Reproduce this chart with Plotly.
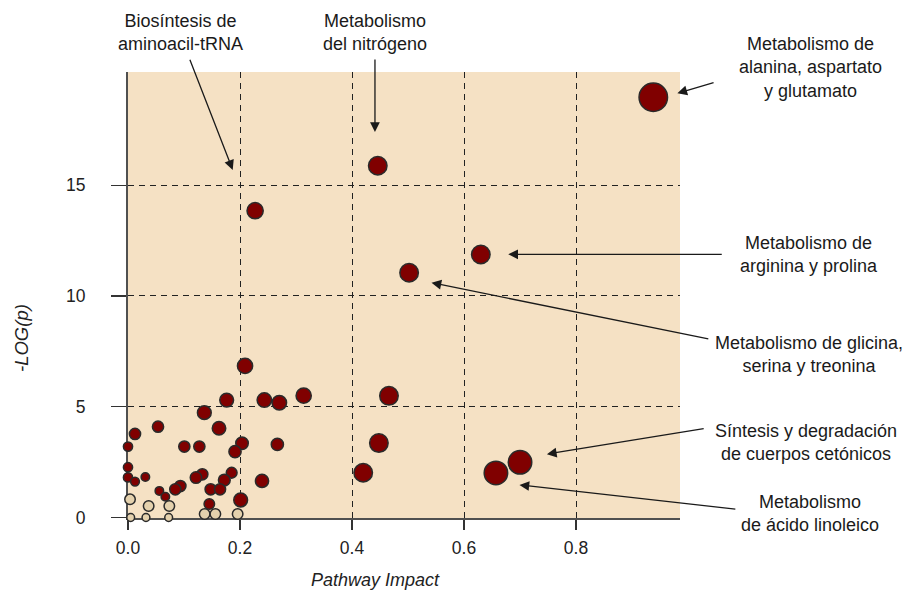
import plotly.graph_objects as go

# ---- data ----
sig_impact = [0.1762, 0.2435, 0.2702, 0.1363, 0.1625, 0.0536, 0.0125, 0.0, 0.1006, 0.1274,
              0.2036, 0.1911, 0.2667, 0.0, 0.0, 0.0125, 0.031, 0.1327, 0.1214, 0.1851,
              0.172, 0.0935, 0.0845, 0.056, 0.0667, 0.1476, 0.1643, 0.2393, 0.1452, 0.2012,
              0.209, 0.3137, 0.466, 0.448, 0.42, 0.227, 0.446, 0.63, 0.502, 0.938, 0.70, 0.657]
sig_logp = [5.30, 5.30, 5.18, 4.73, 4.03, 4.10, 3.77, 3.20, 3.20, 3.20,
            3.35, 2.97, 3.30, 2.27, 1.81, 1.62, 1.83, 1.95, 1.80, 2.02,
            1.69, 1.42, 1.27, 1.20, 0.94, 1.27, 1.27, 1.65, 0.61, 0.79,
            6.84, 5.50, 5.49, 3.36, 2.02, 13.85, 15.88, 11.87, 11.05, 18.97, 2.49, 2.01]
sig_bubble = [15.3, 16, 16, 15.3, 15, 12.7, 12.7, 10.7, 12.7, 12.7,
              14, 13.7, 13.7, 10.7, 10.7, 10.3, 10, 12.7, 13, 12.3,
              13.3, 12.7, 12.7, 10, 10, 12.7, 12.7, 14.7, 12, 15.3,
              16.7, 16.7, 20, 20, 20, 17.7, 20, 20, 20, 30, 25, 25]

ns_impact = [0.0036, 0.0369, 0.0738, 0.0048, 0.0321, 0.0726, 0.1369, 0.156, 0.1958]
ns_logp = [0.82, 0.52, 0.52, 0.0, 0.0, 0.0, 0.16, 0.16, 0.16]
ns_bubble = [12, 12, 12, 9.3, 9.3, 9.3, 12, 12, 12]

x_ticks = [0.0, 0.2, 0.4, 0.6, 0.8]
x_tick_labels = ["0.0", "0.2", "0.4", "0.6", "0.8"]
y_ticks = [0, 5, 10, 15]
y_tick_labels = ["0", "5", "10", "15"]

FONT = "Liberation Sans, Arial, Helvetica, sans-serif"
LW = 1.5

fig = go.Figure()
fig.add_trace(go.Scatter(
    x=ns_impact, y=ns_logp, mode="markers", cliponaxis=False, hoverinfo="skip",
    marker=dict(size=[b - LW for b in ns_bubble], color="#e4d1ad", opacity=1,
                line=dict(color="#2a2a2a", width=LW))))
fig.add_trace(go.Scatter(
    x=sig_impact, y=sig_logp, mode="markers", cliponaxis=False, hoverinfo="skip",
    marker=dict(size=[b - LW for b in sig_bubble], color="#800000", opacity=1,
                line=dict(color="#2a2a2a", width=LW))))

axis_common = dict(
    showgrid=True, gridcolor="#222222", gridwidth=1, griddash="6px,5px",
    showline=True, linecolor="#505050", linewidth=2, zeroline=False,
    ticks="outside", tickcolor="#333333", tickwidth=1.3,
    tickfont=dict(family=FONT, size=17.5, color="#222222"),
    layer="below traces", fixedrange=True,
)

fig.update_xaxes(range=[0, 0.9857], tickvals=x_ticks, ticktext=x_tick_labels,
                 ticklen=10, ticklabelstandoff=3, **axis_common)
fig.update_yaxes(range=[-0.023, 20.11], tickvals=y_ticks, ticktext=y_tick_labels,
                 ticklen=15, ticklabelstandoff=22, **axis_common)

annotations = []
# axis titles
annotations.append(dict(text="<i>Pathway Impact</i>", xref="paper", yref="paper",
                        x=0.4475, y=-0.139, showarrow=False, xanchor="center", yanchor="middle",
                        font=dict(family=FONT, size=18, color="#222222")))
annotations.append(dict(text="<i>-LOG(p)</i>", xref="paper", yref="paper",
                        x=-0.1920, y=0.4036, showarrow=False, textangle=-90,
                        xanchor="center", yanchor="middle",
                        font=dict(family=FONT, size=18.5, color="#222222")))

labels = [
    ("Biosíntesis de<br>aminoacil-tRNA", 0.0960, 1.0886),
    ("Metabolismo<br>del nitrógeno", 0.4469, 1.0886),
    ("Metabolismo de<br>alanina, aspartato<br>y glutamato", 1.2373, 1.0112),
    ("Metabolismo de<br>arginina y prolina", 1.2337, 0.5919),
    ("Metabolismo de glicina,<br>serina y treonina", 1.2337, 0.3655),
    ("Síntesis y degradación<br>de cuerpos cetónicos", 1.2283, 0.1704),
    ("Metabolismo<br>de ácido linoleico", 1.2355, 0.009),
]
for txt, xp, yp in labels:
    annotations.append(dict(text=txt, xref="paper", yref="paper", x=xp, y=yp,
                            showarrow=False, xanchor="center", yanchor="middle",
                            align="center",
                            font=dict(family=FONT, size=18, color="#1a1a1a")))

# arrows: tip in data units, tail offset in pixels
arrows = [
    (0.187, 15.69, -43.4, -111.7),
    (0.441, 17.40, 0, -74),
    (0.981, 19.15, 37.7, -11),
    (0.679, 11.88, 215, 0),
    (0.542, 10.60, 278.3, 56.6),
    (0.748, 2.86, 158.3, -25.7),
    (0.699, 1.47, 217.4, 24.3),
]
for tx, ty, dx, dy in arrows:
    annotations.append(dict(text="", x=tx, y=ty, xref="x", yref="y",
                            ax=dx, ay=dy, axref="pixel", ayref="pixel",
                            showarrow=True, arrowhead=2, arrowsize=1.5, arrowwidth=1.3,
                            arrowcolor="#1a1a1a", standoff=0, startstandoff=0))

fig.update_layout(
    width=907, height=593,
    margin=dict(l=128, r=227, t=72, b=75),
    paper_bgcolor="white", plot_bgcolor="#f5e1c4",
    showlegend=False, annotations=annotations,
    font=dict(family=FONT),
)

fig.write_html("out.html", config={"displayModeBar": False, "staticPlot": True},
               post_script="document.body.style.margin='0';document.body.style.overflow='hidden';")
